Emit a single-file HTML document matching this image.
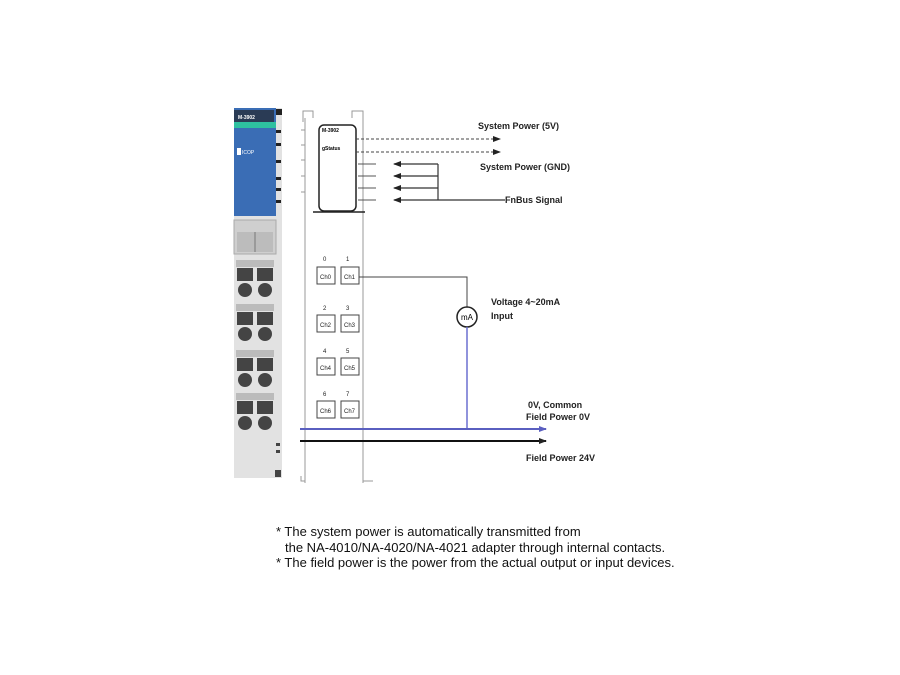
<!DOCTYPE html>
<html><head><meta charset="utf-8"><style>
html,body{margin:0;padding:0;background:#fff;width:900px;height:675px;overflow:hidden}
svg{display:block}
text{font-family:"Liberation Sans",Arial,sans-serif}
</style></head><body>
<svg width="900" height="675" viewBox="0 0 900 675" xmlns="http://www.w3.org/2000/svg">
<defs>
<marker id="ab" markerWidth="8" markerHeight="6" refX="7" refY="3" orient="auto" markerUnits="userSpaceOnUse"><path d="M0,0 L8,3 L0,6z" fill="#222"/></marker>
<marker id="ablue" markerWidth="8" markerHeight="6" refX="7" refY="3" orient="auto" markerUnits="userSpaceOnUse"><path d="M0,0 L8,3 L0,6z" fill="#5a5fc0"/></marker>
</defs>
<!-- module photo -->
<rect x="234" y="108" width="48" height="370" fill="#e2e2e2"/>
<rect x="234" y="108" width="42" height="108" fill="#3a6db5"/>
<rect x="234" y="110" width="40" height="12" fill="#2a3b55"/>
<text x="238" y="119" font-size="5" fill="#fff" font-weight="bold">M-3902</text>
<rect x="234" y="122" width="42" height="6" fill="#2ec0a0"/>
<rect x="237" y="148" width="4" height="7" fill="#fff"/>
<text x="242" y="154" font-size="5" fill="#fff">ICOP</text>
<rect x="276" y="109" width="6" height="6" fill="#222"/>
<g fill="#222"><rect x="276" y="130" width="5" height="3"/><rect x="276" y="143" width="5" height="3"/><rect x="276" y="160" width="5" height="3"/><rect x="276" y="177" width="5" height="3"/><rect x="276" y="188" width="5" height="3"/><rect x="276" y="200" width="5" height="3"/></g>
<rect x="234" y="220" width="42" height="34" fill="#cfcfcf" stroke="#aaa"/>
<rect x="237" y="232" width="36" height="20" fill="#bcbcbc"/>
<line x1="255" y1="232" x2="255" y2="252" stroke="#777"/>
<g fill="#444">
<rect x="236" y="260" width="38" height="7" fill="#bbb"/><rect x="237" y="268" width="16" height="13"/><rect x="257" y="268" width="16" height="13"/><circle cx="245" cy="290" r="7"/><circle cx="265" cy="290" r="7"/>
<rect x="236" y="304" width="38" height="7" fill="#bbb"/><rect x="237" y="312" width="16" height="13"/><rect x="257" y="312" width="16" height="13"/><circle cx="245" cy="334" r="7"/><circle cx="265" cy="334" r="7"/>
<rect x="236" y="350" width="38" height="7" fill="#bbb"/><rect x="237" y="358" width="16" height="13"/><rect x="257" y="358" width="16" height="13"/><circle cx="245" cy="380" r="7"/><circle cx="265" cy="380" r="7"/>
<rect x="236" y="393" width="38" height="7" fill="#bbb"/><rect x="237" y="401" width="16" height="13"/><rect x="257" y="401" width="16" height="13"/><circle cx="245" cy="423" r="7"/><circle cx="265" cy="423" r="7"/>
<rect x="276" y="443" width="4" height="3"/><rect x="276" y="450" width="4" height="3"/><rect x="275" y="470" width="6" height="7"/>
</g>
<!-- schematic frame -->
<g fill="none" stroke="#999" stroke-width="1">
<path d="M303,122 V111 H313 V118"/>
<path d="M363,122 V111 H352 V118"/>
<line x1="305" y1="118" x2="305" y2="483"/>
<line x1="363" y1="118" x2="363" y2="483"/>
<path d="M301,130 H305 M301,145 H305 M301,160 H305 M301,176 H305 M301,192 H305 M301,476 V481 H305"/>
<path d="M363,476 V481 H373"/>
</g>
<rect x="319" y="125" width="37" height="86" rx="5" fill="#fff" stroke="#222" stroke-width="1.5"/>
<text x="322" y="132" font-size="5" font-weight="bold">M-3902</text>
<text x="322" y="150" font-size="5" font-weight="bold">gStatus</text>
<line x1="313" y1="212" x2="365" y2="212" stroke="#222" stroke-width="1.5"/>
<!-- system power lines -->
<line x1="356" y1="139" x2="500" y2="139" stroke="#444" stroke-dasharray="3,2" marker-end="url(#ab)"/>
<line x1="356" y1="152" x2="500" y2="152" stroke="#444" stroke-dasharray="3,2" marker-end="url(#ab)"/>
<g stroke="#555"><line x1="358" y1="164" x2="376" y2="164"/><line x1="358" y1="176" x2="376" y2="176"/><line x1="358" y1="188" x2="376" y2="188"/><line x1="358" y1="200" x2="376" y2="200"/></g>
<g stroke="#333" stroke-width="1.2">
<line x1="438" y1="164" x2="394" y2="164" marker-end="url(#ab)"/>
<line x1="438" y1="176" x2="394" y2="176" marker-end="url(#ab)"/>
<line x1="438" y1="188" x2="394" y2="188" marker-end="url(#ab)"/>
<line x1="438" y1="200" x2="394" y2="200" marker-end="url(#ab)"/>
<line x1="438" y1="164" x2="438" y2="200"/>
<line x1="438" y1="200" x2="505" y2="200"/>
</g>
<g font-size="9" font-weight="bold" fill="#222">
<text x="478" y="129">System Power (5V)</text>
<text x="480" y="170">System Power (GND)</text>
<text x="505" y="203">FnBus Signal</text>
<text x="491" y="305">Voltage 4~20mA</text>
<text x="491" y="319">Input</text>
<text x="528" y="408">0V, Common</text>
<text x="526" y="420">Field Power 0V</text>
<text x="526" y="461">Field Power 24V</text>
</g>
<!-- channels -->
<g fill="#fff" stroke="#444">
<rect x="317" y="267" width="18" height="17"/><rect x="341" y="267" width="18" height="17"/>
<rect x="317" y="315" width="18" height="17"/><rect x="341" y="315" width="18" height="17"/>
<rect x="317" y="358" width="18" height="17"/><rect x="341" y="358" width="18" height="17"/>
<rect x="317" y="401" width="18" height="17"/><rect x="341" y="401" width="18" height="17"/>
</g>
<g font-size="6" fill="#222">
<text x="320" y="279">Ch0</text><text x="344" y="279">Ch1</text>
<text x="320" y="327">Ch2</text><text x="344" y="327">Ch3</text>
<text x="320" y="370">Ch4</text><text x="344" y="370">Ch5</text>
<text x="320" y="413">Ch6</text><text x="344" y="413">Ch7</text>
<text x="323" y="261">0</text><text x="346" y="261">1</text>
<text x="323" y="310">2</text><text x="346" y="310">3</text>
<text x="323" y="353">4</text><text x="346" y="353">5</text>
<text x="323" y="396">6</text><text x="346" y="396">7</text>
</g>
<polyline points="359,277 467,277 467,307" fill="none" stroke="#444"/>
<circle cx="467" cy="317" r="10" fill="#fff" stroke="#222" stroke-width="1.5"/>
<text x="467" y="320" font-size="8" text-anchor="middle">mA</text>
<line x1="467" y1="327" x2="467" y2="429" stroke="#6a6fd0" stroke-width="1.5"/>
<line x1="300" y1="429" x2="546" y2="429" stroke="#5a5fc0" stroke-width="2" marker-end="url(#ablue)"/>
<line x1="300" y1="441" x2="546" y2="441" stroke="#111" stroke-width="2" marker-end="url(#ab)"/>
<!-- notes -->
<g font-size="13" fill="#111">
<text x="276" y="536">* The system power is automatically transmitted from</text>
<text x="285" y="552">the NA-4010/NA-4020/NA-4021 adapter through internal contacts.</text>
<text x="276" y="567">* The field power is the power from the actual output or input devices.</text>
</g>
</svg>
</body></html>
